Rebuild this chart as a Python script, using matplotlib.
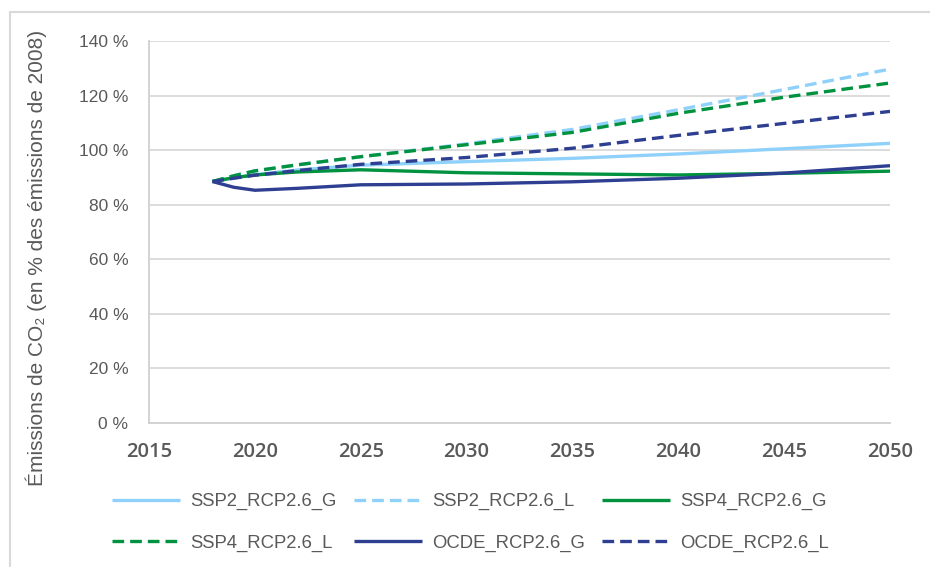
import matplotlib
matplotlib.use("Agg")
import matplotlib.pyplot as plt
from matplotlib.lines import Line2D
from matplotlib import ticker

plt.rcParams['font.family'] = ['Liberation Sans', 'DejaVu Sans']

# data (% of 2008 emissions)
years = [2018, 2019, 2020, 2022, 2025, 2030, 2035, 2040, 2045, 2050]
ssp2_g = [88.5, 89.8, 91.0, 92.7, 94.5, 95.8, 97.0, 98.6, 100.5, 102.5]
ssp2_l = [88.5, 90.6, 92.4, 94.6, 97.6, 102.3, 107.6, 114.8, 122.2, 129.7]
ssp4_g = [88.5, 89.9, 90.9, 92.0, 92.8, 91.7, 91.3, 90.9, 91.5, 92.3]
ssp4_l = [88.5, 90.6, 92.4, 94.6, 97.6, 102.0, 106.5, 113.5, 119.4, 124.6]
ocde_g = [88.5, 86.4, 85.3, 86.0, 87.3, 87.6, 88.4, 89.7, 91.6, 94.3]
ocde_l = [88.5, 89.7, 90.8, 92.5, 94.8, 97.3, 100.7, 105.4, 109.8, 114.2]

names = ["SSP2_RCP2.6_G", "SSP2_RCP2.6_L", "SSP4_RCP2.6_G",
         "SSP4_RCP2.6_L", "OCDE_RCP2.6_G", "OCDE_RCP2.6_L"]
series = [ssp2_g, ssp2_l, ssp4_g, ssp4_l, ocde_g, ocde_l]

light = '#8fd1fa'
green = '#00923f'
navy = '#2e3f92'
colors = [light, light, green, green, navy, navy]
dash = (0, (3.5, 1.8))
styles = ['-', dash, '-', dash, '-', dash]

x_ticks = [2015, 2020, 2025, 2030, 2035, 2040, 2045, 2050]
y_ticks = [0, 20, 40, 60, 80, 100, 120, 140]

fig = plt.figure(figsize=(9.3, 5.67), dpi=100)
ax = fig.add_axes([149 / 930, 1 - 423 / 567, (890 - 149) / 930, (423 - 41) / 567])

lines = []
for vals, name, c, ls in zip(series, names, colors, styles):
    ln, = ax.plot(years, vals, color=c, lw=2.4, linestyle=ls, label=name,
                  solid_capstyle='butt', dash_capstyle='butt')
    lines.append(ln)

ax.set_xlim(2015, 2050)
ax.set_ylim(0, 140)
ax.set_xticks(x_ticks)
ax.set_yticks(y_ticks)
ax.yaxis.set_major_formatter(ticker.FuncFormatter(lambda v, p: f"{int(v)} %"))
ax.grid(axis='y', color='#d9d9d9', lw=1.3)
ax.set_axisbelow(True)
for s in ['top', 'right']:
    ax.spines[s].set_visible(False)
for s in ['left', 'bottom']:
    ax.spines[s].set_color('#d0d0d0')
    ax.spines[s].set_linewidth(1.3)
ax.tick_params(axis='both', length=0)
ax.tick_params(axis='y', pad=15, labelsize=12.5, labelcolor='#595959')
ax.tick_params(axis='x', pad=14, labelcolor='#595959')
for lab in ax.get_xticklabels():
    lab.set_family(['Open Sans', 'DejaVu Sans'])
    lab.set_fontweight('semibold')
    lab.set_fontsize(14.5)

fig.text(36 / 930, 1 - 258 / 567, "Émissions de CO₂ (en % des émissions de 2008)",
         rotation=90, ha='center', va='center', fontsize=15, color='#595959')

# legend, filled column-wise in matplotlib -> reorder to match rows
order = [0, 3, 1, 4, 2, 5]
fig.legend([lines[i] for i in order], [names[i] for i in order],
           loc='upper left', bbox_to_anchor=(112 / 930, 1 - 493 / 567),
           ncol=3, frameon=False, fontsize=13.3, labelcolor='#595959',
           handlelength=3.7, handletextpad=0.55, columnspacing=0.9,
           labelspacing=1.32, borderpad=0, borderaxespad=0)

# outer chart frame
fig.add_artist(Line2D([10 / 930, 1.0], [1 - 12 / 567, 1 - 12 / 567],
                      transform=fig.transFigure, color='#d9d9d9', lw=1.5))
fig.add_artist(Line2D([10 / 930, 10 / 930], [0.0, 1 - 12 / 567],
                      transform=fig.transFigure, color='#d9d9d9', lw=1.5))

fig.savefig("out.png", dpi=100)
